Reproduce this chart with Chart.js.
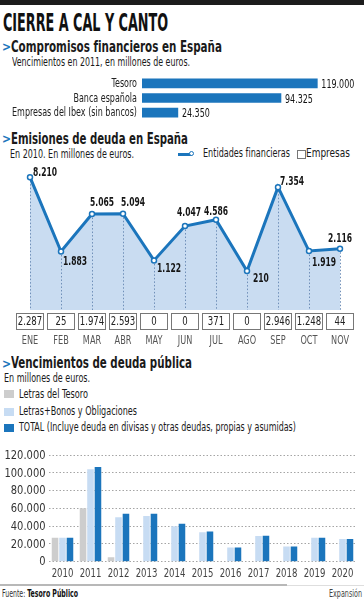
<!DOCTYPE html>
<html lang="es">
<head>
<meta charset="utf-8">
<title>Cierre a cal y canto</title>
<script src="https://cdn.jsdelivr.net/npm/chart.js@4.4.1/dist/chart.umd.min.js"></script>
<style>
  html, body { margin: 0; padding: 0; background: #fff; }
  body {
    width: 364px; height: 600px; position: relative; overflow: hidden;
    font-family: 'Liberation Sans Narrow', 'DejaVu Sans Condensed', sans-serif;
    color: #1a1a1a;
  }
  .t { position: absolute; white-space: nowrap; line-height: 1; transform-origin: 0 0; display: inline-block; }
  .b { font-weight: bold; }
  .chev { position: absolute; color: #1b75bc; font-weight: bold; font-size: 12px; line-height: 1; }
  .sq { position: absolute; width: 10px; height: 8px; left: 4px; }
  canvas { position: absolute; left: 0; }
</style>
</head>
<body>
<div style="position:absolute;left:0;top:0;width:364px;height:5px;background:#1c1c1c"></div>
<div class="t b" data-w="165" style="left:3px;top:10px;font-size:25px;color:#111">CIERRE A CAL Y CANTO</div>

<span class="chev" style="left:2px;top:41px">&gt;</span>
<div class="t b" data-w="211" style="left:11px;top:38.6px;font-size:16px">Compromisos financieros en España</div>
<div class="t" data-w="178" style="left:12px;top:57.4px;font-size:11.5px">Vencimientos en 2011, en millones de euros.</div>
<canvas id="compromisos" width="364" height="48" style="top:74px"></canvas>

<span class="chev" style="left:2px;top:132.5px">&gt;</span>
<div class="t b" data-w="177" style="left:11px;top:131px;font-size:16px">Emisiones de deuda en España</div>
<div class="t" data-w="124" style="left:10px;top:148.8px;font-size:11.5px">En 2010. En millones de euros.</div>
<div style="position:absolute;left:178px;top:152.5px;width:14px;height:3px;background:#1b75bc"></div>
<div style="position:absolute;left:189px;top:151px;width:3px;height:3px;border:1.5px solid #1b75bc;border-radius:50%;background:#fff"></div>
<div class="t" data-w="87" style="left:203px;top:148.3px;font-size:11.5px">Entidades financieras</div>
<div style="position:absolute;left:297px;top:150px;width:7px;height:7px;border:1px solid #777;background:#fff"></div>
<div class="t" data-w="44" style="left:306px;top:148.3px;font-size:11.5px">Empresas</div>
<canvas id="emisiones" width="364" height="190" style="top:160px"></canvas>

<span class="chev" style="left:2px;top:358px">&gt;</span>
<div class="t b" data-w="181" style="left:11px;top:354.6px;font-size:16px">Vencimientos de deuda pública</div>
<div class="t" data-w="86" style="left:4px;top:373.1px;font-size:11.5px">En millones de euros.</div>
<div class="sq" style="top:390px;background:#cdcdcd"></div>
<div class="t" data-w="69" style="left:19px;top:388.3px;font-size:12px">Letras del Tesoro</div>
<div class="sq" style="top:407.5px;background:#c7dcf3"></div>
<div class="t" data-w="118" style="left:19px;top:405px;font-size:12px">Letras+Bonos y Obligaciones</div>
<div class="sq" style="top:424px;background:#1b75bc"></div>
<div class="t" data-w="277" style="left:19px;top:421.3px;font-size:12px">TOTAL (Incluye deuda en divisas y otras deudas, propias y asumidas)</div>
<canvas id="vencimientos" width="364" height="136" style="top:445px"></canvas>

<div style="position:absolute;left:0;top:584px;width:287px;height:2px;background:#b8b8b8"></div>
<div style="position:absolute;left:287px;top:584.5px;width:77px;height:1.5px;background:#dedede"></div>
<div class="t" data-w="76" style="left:2px;top:588.7px;font-size:10px;color:#333">Fuente: <span class="b" style="color:#111">Tesoro Público</span></div>
<div class="t" data-w="33" style="left:329px;top:588.7px;font-size:10px;color:#444">Expansión</div>

<script>
// --- datos ---
const compromisosLabels = ['Tesoro', 'Banca española', 'Empresas del Ibex (sin bancos)'];
const compromisosValues = [119000, 94325, 24350];

const meses = ['ENE', 'FEB', 'MAR', 'ABR', 'MAY', 'JUN', 'JUL', 'AGO', 'SEP', 'OCT', 'NOV'];
const entidadesFinancieras = [8210, 1883, 5065, 5094, 1122, 4047, 4586, 210, 7354, 1919, 2116];
const empresas = [2287, 25, 1974, 2593, 0, 0, 371, 0, 2946, 1248, 44];

const anios = ['2010', '2011', '2012', '2013', '2014', '2015', '2016', '2017', '2018', '2019', '2020'];
const letrasTesoro = [27000, 60000, 5000, null, null, null, null, null, null, null, null];
const letrasBonos = [27000, 104000, 50000, 51500, 40000, 33000, 16000, 29000, 17000, 27000, 25500];
const totalDeuda = [27000, 106500, 54000, 54000, 42800, 34000, 16000, 29300, 17000, 27000, 25500];

// desplazamiento [dx, dy] de cada etiqueta de la línea
const labelOffsets = [[3, -4], [2, 10], [-2, -11], [-2, -11], [3, 8], [-8, -13], [-12, -8],
                      [6, 8], [2, -5], [3, 12], [-12, -10]];

const FONT = "'Liberation Sans Narrow', 'DejaVu Sans Condensed', sans-serif";
const BLUE = '#1b75bc';

const fmt = v => String(v).replace(/\B(?=(\d{3})+(?!\d))/g, '.');

Chart.defaults.font.family = FONT;
Chart.defaults.animation = false;

function fitTexts() {
    document.querySelectorAll('[data-w]').forEach(el => {
        el.style.transform = 'none';
        const w = el.getBoundingClientRect().width;
        el.style.transform = `scaleX(${(+el.dataset.w / w).toFixed(3)})`;
    });
}

// la fuente del original es muy estrecha: se comprime el texto del canvas
function squeeze(ctx, font, sample, width) {
    ctx.save();
    ctx.font = font;
    const w = ctx.measureText(sample).width;
    ctx.restore();
    return width / w;
}

function drawText(ctx, text, x, y, font, color, align, sx) {
    ctx.save();
    ctx.font = font;
    ctx.fillStyle = color;
    ctx.textAlign = align;
    ctx.textBaseline = 'middle';
    ctx.translate(x, y);
    ctx.scale(sx, 1);
    ctx.fillText(text, 0, 0);
    ctx.restore();
}

// barras horizontales
new Chart(document.getElementById('compromisos'), {
    type: 'bar',
    data: {
        labels: compromisosLabels,
        datasets: [{ data: compromisosValues, backgroundColor: BLUE, barThickness: 9 }],
    },
    options: {
        indexAxis: 'y',
        responsive: false,
        layout: { padding: { top: 2, bottom: 2, right: 1 } },
        plugins: { legend: { display: false }, tooltip: { enabled: false } },
        scales: {
            x: { display: false, min: 0, max: 150000 },
            y: {
                grid: { display: false, drawTicks: false }, border: { display: false },
                ticks: { display: false },
                afterFit(scale) { scale.width = 142; },
            },
        },
    },
    plugins: [{
        id: 'textos',
        afterDatasetsDraw(chart) {
            const ctx = chart.ctx;
            const fCat = `12px ${FONT}`;
            const sxCat = squeeze(ctx, fCat, compromisosLabels[2], 125);
            const sxVal = squeeze(ctx, fCat, '119.000', 33);
            const ys = chart.scales.y;
            compromisosLabels.forEach((lab, i) => {
                drawText(ctx, lab, chart.chartArea.left - 5, ys.getPixelForValue(i) + 0.5, fCat, '#222', 'right', sxCat);
            });
            chart.getDatasetMeta(0).data.forEach((bar, i) => {
                drawText(ctx, fmt(compromisosValues[i]), bar.x + 4, bar.y + 1.5, fCat, '#111', 'left', sxVal);
            });
        },
    }],
});

// línea de emisiones
new Chart(document.getElementById('emisiones'), {
    type: 'line',
    data: {
        labels: meses,
        datasets: [{
            data: entidadesFinancieras,
            borderColor: BLUE,
            borderWidth: 3,
            backgroundColor: '#c9dcf1',
            fill: 'start',
            tension: 0,
            pointRadius: 2.5,
            pointBorderWidth: 1.5,
            pointBackgroundColor: '#fff',
            pointBorderColor: BLUE,
        }],
    },
    options: {
        responsive: false,
        layout: { padding: { top: 5, left: 30, right: 24, bottom: 0 } },
        plugins: { legend: { display: false }, tooltip: { enabled: false } },
        scales: {
            y: { display: false, min: -3100, max: 9200 },
            x: {
                offset: false,
                grid: { display: false, drawTicks: false }, border: { display: false },
                ticks: { display: false },
                afterFit(scale) { scale.height = 40; },
            },
        },
    },
    plugins: [{
        id: 'guias',
        beforeDatasetDraw(chart) {
            const ctx = chart.ctx;
            const bottom = chart.chartArea.bottom;
            ctx.save();
            ctx.strokeStyle = '#6f8fb8';
            ctx.lineWidth = 1;
            ctx.setLineDash([1.5, 2]);
            chart.getDatasetMeta(0).data.forEach(pt => {
                const x = Math.round(pt.x) + 0.5;
                ctx.beginPath();
                ctx.moveTo(x, pt.y);
                ctx.lineTo(x, bottom);
                ctx.stroke();
            });
            ctx.restore();
        },
        afterDatasetsDraw(chart) {
            const ctx = chart.ctx;
            const fLab = `bold 12px ${FONT}`;
            const sxLab = squeeze(ctx, fLab, '8.210', 24);
            chart.getDatasetMeta(0).data.forEach((pt, i) => {
                const [dx, dy] = labelOffsets[i];
                drawText(ctx, fmt(entidadesFinancieras[i]), pt.x + dx, pt.y + dy, fLab, '#151515', 'left', sxLab);
            });
            // casillas de Empresas y meses
            const xs = chart.scales.x;
            const top = chart.chartArea.bottom + 3;
            const fBox = `12.5px ${FONT}`;
            const sxBox = squeeze(ctx, fBox, '2.287', 24.5);
            const fMes = `12px ${FONT}`;
            const sxMes = squeeze(ctx, fMes, 'MAR', 18.3);
            empresas.forEach((v, i) => {
                const x = xs.getPixelForValue(i);
                ctx.save();
                ctx.fillStyle = '#fff';
                ctx.fillRect(x - 14, top, 28, 16);
                ctx.strokeStyle = '#777';
                ctx.lineWidth = 1;
                ctx.strokeRect(Math.round(x - 14) + 0.5, Math.round(top) + 0.5, 27, 16);
                ctx.restore();
                drawText(ctx, fmt(v), x, top + 9, fBox, '#222', 'center', sxBox);
                drawText(ctx, meses[i], x, chart.chartArea.bottom + 31, fMes, '#555', 'center', sxMes);
            });
        },
    }],
});

// barras de vencimientos
new Chart(document.getElementById('vencimientos'), {
    type: 'bar',
    data: {
        labels: anios,
        datasets: [
            { label: 'Letras del Tesoro', data: letrasTesoro, backgroundColor: '#cdcdcd' },
            { label: 'Letras+Bonos y Obligaciones', data: letrasBonos, backgroundColor: '#c7dcf3' },
            { label: 'TOTAL', data: totalDeuda, backgroundColor: BLUE },
        ],
    },
    options: {
        responsive: false,
        categoryPercentage: 0.8,
        barPercentage: 0.88,
        layout: { padding: { top: 10, right: 7.5 } },
        plugins: { legend: { display: false }, tooltip: { enabled: false } },
        scales: {
            y: {
                min: 0, max: 120000,
                ticks: { stepSize: 20000, display: false },
                grid: { color: '#a5a5a5', drawTicks: false },
                border: { display: false, dash: [1.5, 2] },
                afterFit(scale) { scale.width = 48.5; },
            },
            x: {
                grid: { display: false, drawTicks: false }, border: { display: false },
                ticks: { display: false },
                afterFit(scale) { scale.height = 19.3; },
            },
        },
    },
    plugins: [{
        id: 'ejes',
        afterDraw(chart) {
            const ctx = chart.ctx;
            const { left, bottom } = chart.chartArea;
            const fY = `12.5px ${FONT}`;
            const sxY = squeeze(ctx, fY, '120.000', 41);
            chart.scales.y.ticks.forEach(t => {
                drawText(ctx, fmt(t.value), left - 3, chart.scales.y.getPixelForValue(t.value) + 0.5, fY, '#333', 'right', sxY);
            });
            const sxX = squeeze(ctx, fY, '2010', 21.7);
            anios.forEach((a, i) => {
                drawText(ctx, a, chart.scales.x.getPixelForValue(i), bottom + 12.3, fY, '#444', 'center', sxX);
            });
        },
    }],
});

document.fonts.ready.then(fitTexts);
fitTexts();
</script>
</body>
</html>
